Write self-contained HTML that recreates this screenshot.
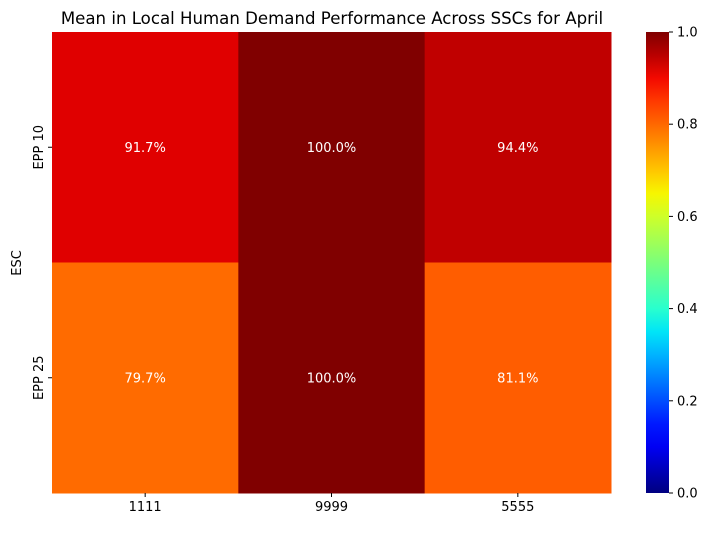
<!DOCTYPE html>
<html><head><meta charset="utf-8"><style>
body{margin:0;background:#fff}
svg text{font-family:"DejaVu Sans","Liberation Sans",sans-serif}
</style></head><body>
<svg id="chart" width="710" height="528" xmlns="http://www.w3.org/2000/svg">
<defs><linearGradient id="jetgrad" x1="0" y1="1" x2="0" y2="0"></linearGradient></defs>
<text x="332" y="24" text-anchor="middle" font-size="16.6" fill="#000">Mean in Local Human Demand Performance Across SSCs for April</text>
<text transform="translate(21,263) rotate(-90)" text-anchor="middle" font-size="13">ESC</text>
<g id="cells"></g><g id="cbar"></g>
</svg>
<script>
const columns = ["1111","9999","5555"];
const rows = ["EPP 10","EPP 25"];
const valuesEpp10 = [0.917, 1.0, 0.944];
const valuesEpp25 = [0.797, 1.0, 0.811];
const cbarTicks = [0,0.2,0.4,0.6,0.8,1.0];

const NS="http://www.w3.org/2000/svg";
const svg=document.getElementById('chart');
const L=52,R=611,T=32,B=493;
function seg(p,v){for(let i=1;i<p.length;i++){if(v<=p[i][0]){const a=p[i-1],b=p[i];return a[1]+(b[1]-a[1])*(v-a[0])/(b[0]-a[0]);}}return p[p.length-1][1];}
function jet(v){v=Math.max(0,Math.min(1,v));
const r=seg([[0,0],[0.35,0],[0.66,1],[0.89,1],[1,0.5]],v);
const g=seg([[0,0],[0.125,0],[0.375,1],[0.64,1],[0.91,0],[1,0]],v);
const b=seg([[0,0.5],[0.11,1],[0.34,1],[0.65,0],[1,0]],v);
return `rgb(${Math.round(r*255)},${Math.round(g*255)},${Math.round(b*255)})`;}
const xs=i=>L+(R-L)*i/columns.length, cw=(R-L)/columns.length;
const ys=j=>T+(B-T)*j/rows.length, rh=(B-T)/rows.length;
function mk(tag,attrs,parent){const e=document.createElementNS(NS,tag);for(const k in attrs)e.setAttribute(k,attrs[k]);(parent||svg).appendChild(e);return e;}
const cells=document.getElementById('cells');
[valuesEpp10,valuesEpp25].forEach((vals,j)=>{
 vals.forEach((v,i)=>{
  const r=mk('rect',{x:xs(i),y:ys(j),width:cw+0.5,height:rh+0.5,fill:jet(v)},cells);
  
  
  const t=mk('text',{x:xs(i)+cw/2,y:ys(j)+rh/2+4.5,'text-anchor':'middle','font-size':13,fill:'#fff'},cells);
  t.textContent=(v*100).toFixed(1)+'%';
  
  
 });
});
columns.forEach((c,i)=>{
 const x=xs(i)+cw/2;
 mk('line',{x1:x,x2:x,y1:B,y2:B+4,stroke:'#000'});
 const t=mk('text',{x:x,y:B+18,'text-anchor':'middle','font-size':13},cells);
 t.textContent=c;
 
 
});
rows.forEach((r,j)=>{
 const y=ys(j)+rh/2;
 mk('line',{x1:L-4,x2:L,y1:y,y2:y,stroke:'#000'});
 const t=mk('text',{transform:`translate(${L-9},${y}) rotate(-90)`,'text-anchor':'middle','font-size':13},cells);
 t.textContent=r;
 
 
});
const grad=document.getElementById('jetgrad');
for(let k=0;k<=20;k++){mk('stop',{offset:k/20,'stop-color':jet(k/20)},grad);}
const CX=646,CW=23;
const cb=mk('rect',{x:CX,y:T,width:CW,height:B-T,fill:'url(#jetgrad)'},document.getElementById('cbar'));


cbarTicks.forEach(v=>{
 const y=B-(B-T)*v;
 mk('line',{x1:CX+CW,x2:CX+CW+4,y1:y,y2:y,stroke:'#000'});
 const t=mk('text',{x:CX+CW+8,y:y+4.5,'font-size':13},document.getElementById('cbar'));
 t.textContent=v.toFixed(1);
 
 
});
</script>
</body></html>
